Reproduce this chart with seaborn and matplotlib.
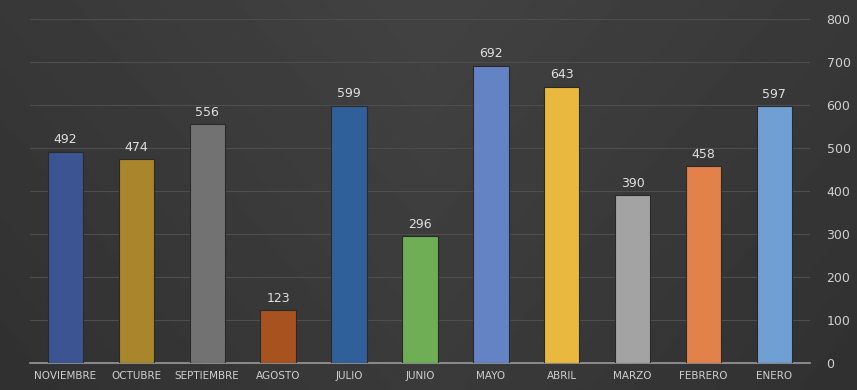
import matplotlib
matplotlib.use("Agg")
import matplotlib.pyplot as plt
import seaborn as sns
import pandas as pd
import numpy as np

meses = ["ENERO", "FEBRERO", "MARZO", "ABRIL", "MAYO", "JUNIO",
         "JULIO", "AGOSTO", "SEPTIEMBRE", "OCTUBRE", "NOVIEMBRE"]
valores = [597, 458, 390, 643, 692, 296, 599, 123, 556, 474, 492]
colores = ["#6f9fd3", "#e2814a", "#a3a3a3", "#e9b93f", "#6383c4", "#6fae55",
           "#30609a", "#a8521f", "#727272", "#a9852c", "#3a5592"]
yticks = [0, 100, 200, 300, 400, 500, 600, 700, 800]

df = pd.DataFrame({"mes": meses, "valor": valores})

sns.set_theme(style="dark")
fig = plt.figure(figsize=(8.57, 3.90), dpi=100)

# dark gradient background
bg = fig.add_axes([0, 0, 1, 1], zorder=-10)
gx = np.linspace(0, 1, 256)
g = np.outer(np.ones(256), gx)
yy = np.outer(np.linspace(1, 0, 256), np.ones(256))
bg.imshow(0.19 + 0.04 * (1 - np.abs(g - 0.5) * 2) + 0.03 * yy, cmap="gray",
          vmin=0, vmax=1, aspect="auto", extent=[0, 1, 0, 1])
bg.set_axis_off()

ax = fig.add_axes([0.035, 0.069, 0.91, 0.882])
ax.set_facecolor("none")
sns.barplot(data=df, x="mes", y="valor", hue="mes", palette=colores,
            legend=False, width=0.5, ax=ax, saturation=1, zorder=3,
            edgecolor="#2a2a2a", linewidth=0.8)

ax.invert_xaxis()
ax.set_ylim(0, 800)
ax.set_yticks(yticks)
ax.yaxis.tick_right()
ax.grid(axis="y", color="#4e4e4e", linewidth=0.8, zorder=0)
ax.grid(axis="x", visible=False)
for s in ["top", "left", "right"]:
    ax.spines[s].set_visible(False)
ax.spines["bottom"].set_color("#9a9a9a")
ax.spines["bottom"].set_linewidth(1.2)
ax.tick_params(axis="y", colors="#cfcfcf", labelsize=9, length=0, pad=12)
ax.tick_params(axis="x", colors="#cfcfcf", labelsize=7.5, length=0, pad=6)
ax.set_xlabel("")
ax.set_ylabel("")

for i, v in enumerate(valores):
    ax.text(i, v + 12, str(v), ha="center", va="bottom",
            color="#e0e0e0", fontsize=9, zorder=4)

fig.savefig("out.png", dpi=100)
